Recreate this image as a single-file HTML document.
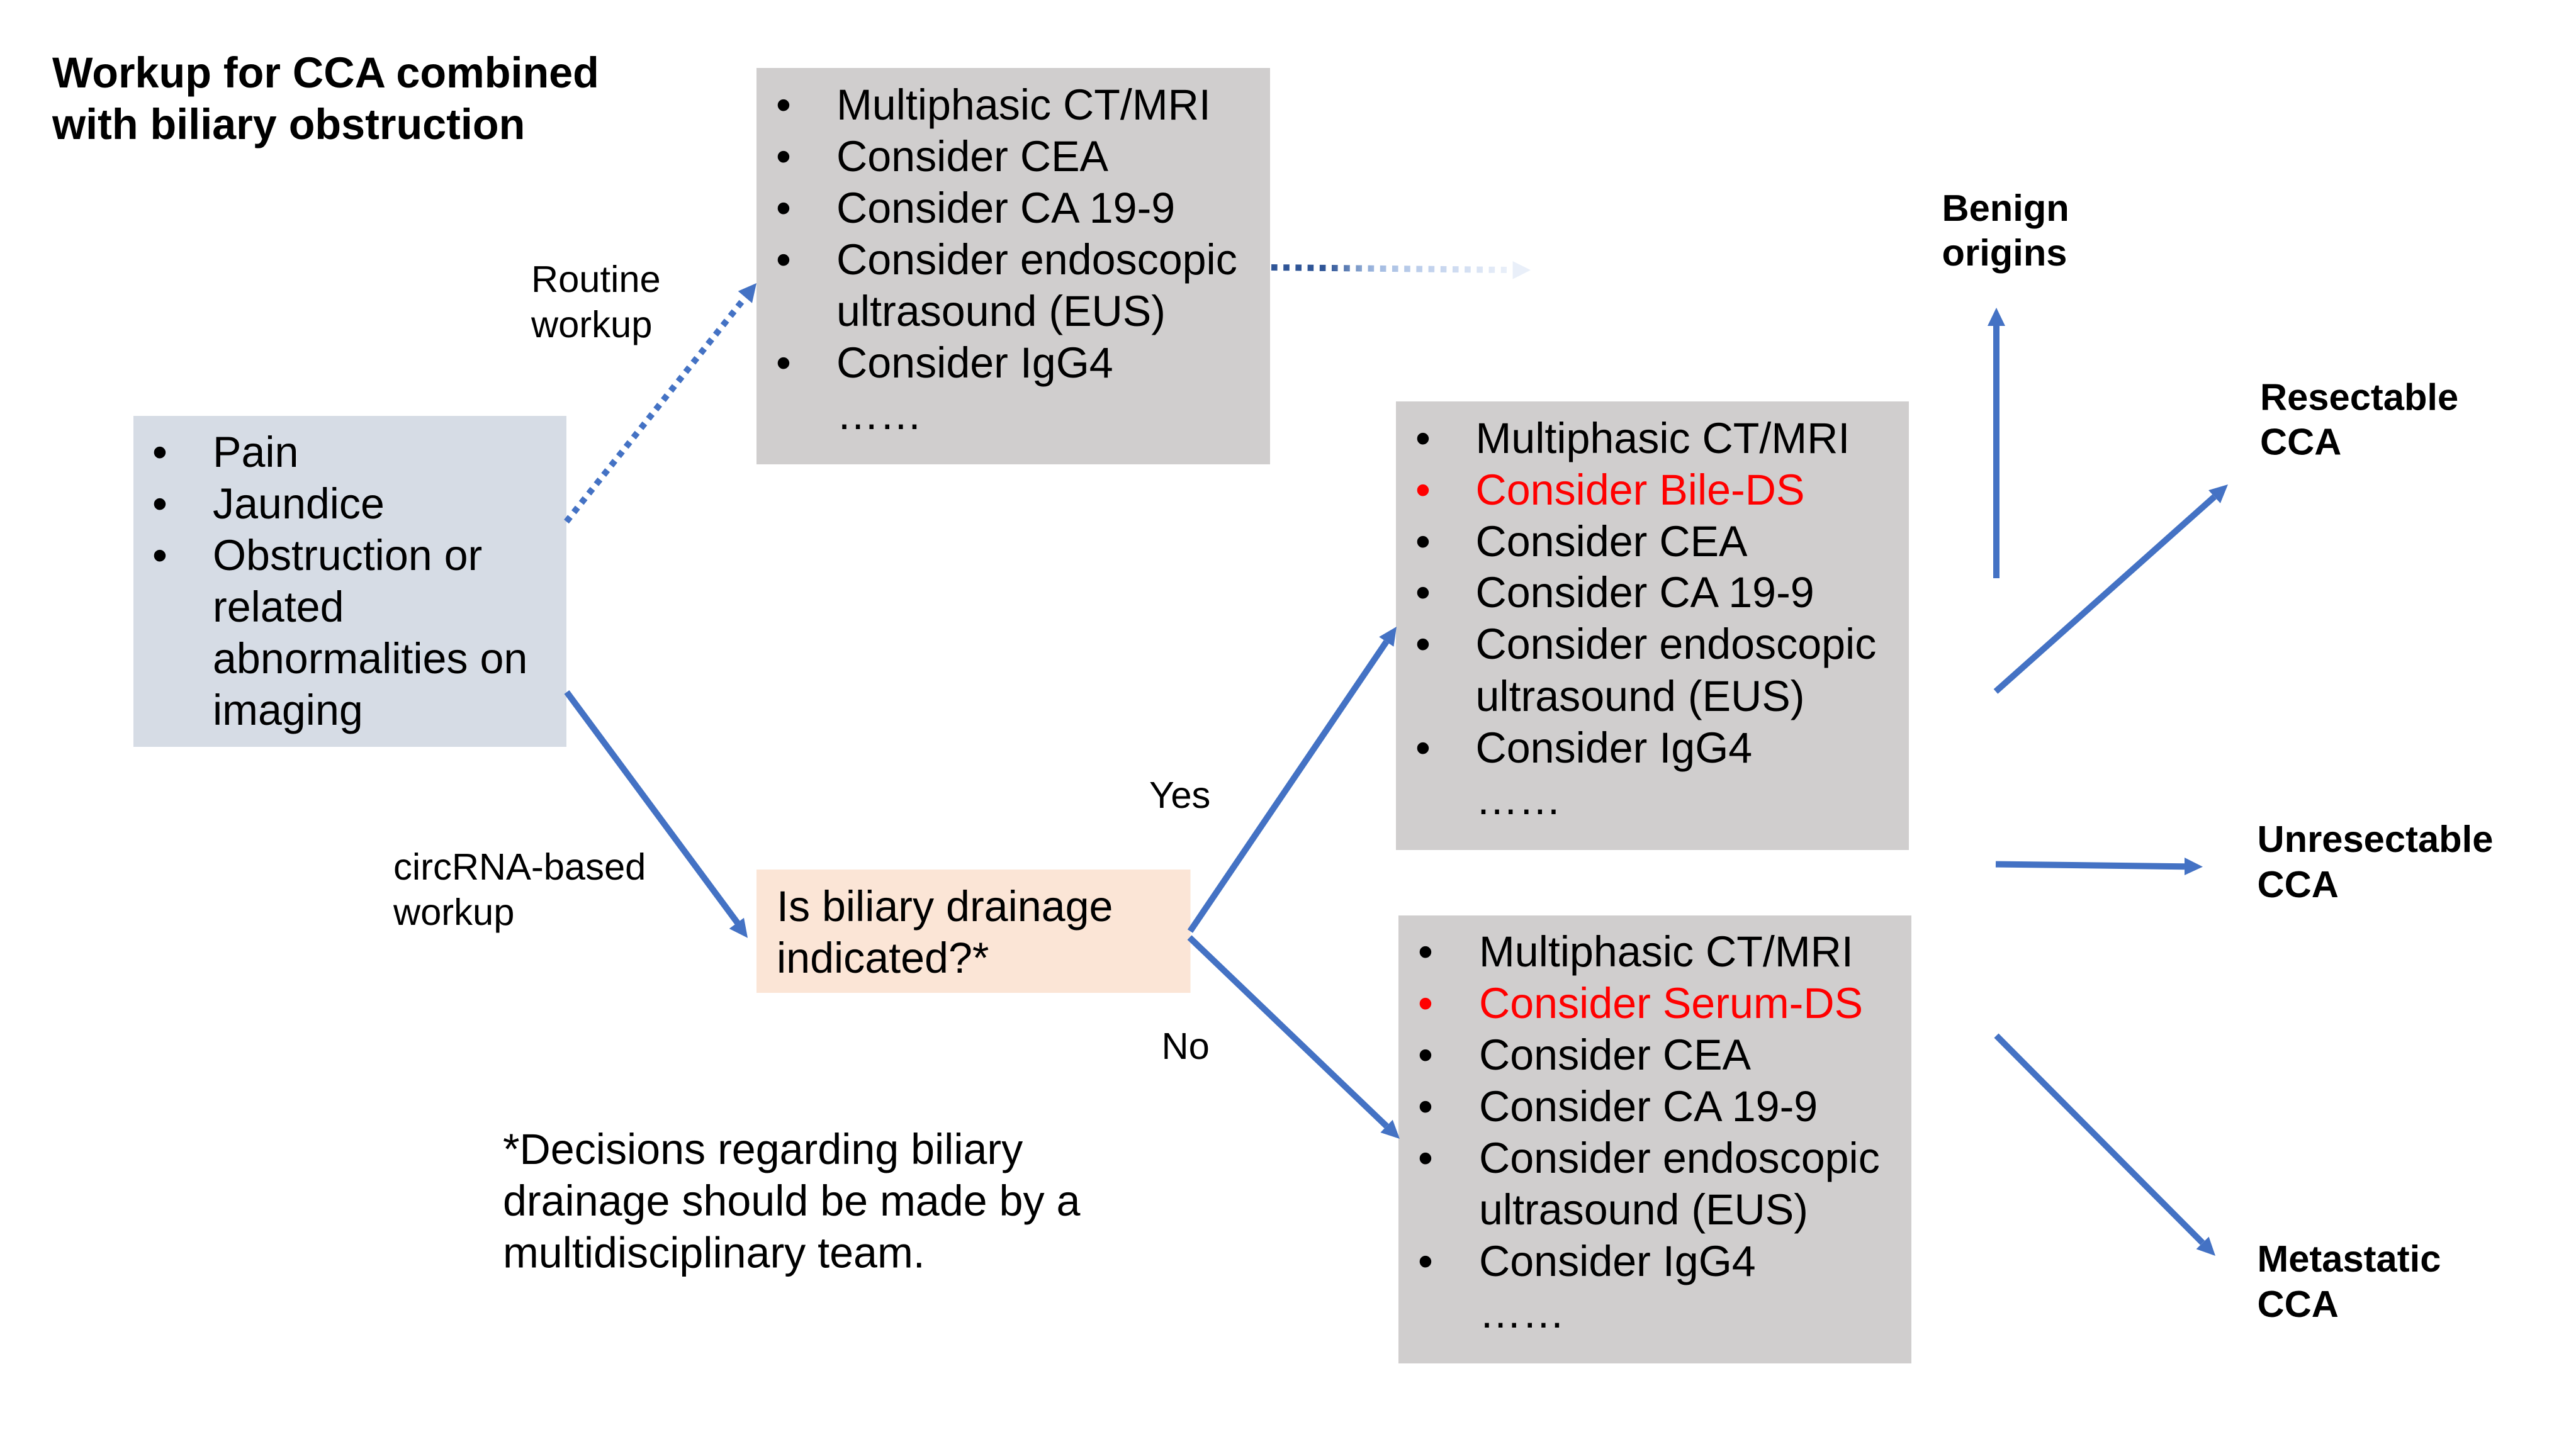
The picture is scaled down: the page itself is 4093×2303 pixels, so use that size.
<!DOCTYPE html>
<html>
<head>
<meta charset="utf-8">
<style>
html,body{margin:0;padding:0;background:#fff;width:4093px;height:2303px;overflow:hidden}
svg{display:block}
text{font-family:"Liberation Sans",Arial,sans-serif;fill:#000}
.m{font-size:68.2px}
.s{font-size:59.7px}
.b{font-size:59.7px;font-weight:bold}
.t{font-size:68.3px;font-weight:bold}
.r{fill:#f00}
.l{stroke:#4472C4;stroke-width:10;fill:none}
.h{fill:#4472C4}
</style>
</head>
<body>
<svg width="4093" height="2303" viewBox="0 0 4093 2303" xmlns="http://www.w3.org/2000/svg">
<defs>
<linearGradient id="g" gradientUnits="userSpaceOnUse" x1="2020" y1="0" x2="2394" y2="0">
<stop offset="0" stop-color="#2F5597"/>
<stop offset="0.22" stop-color="#2F5597"/>
<stop offset="0.30" stop-color="#4F71AB"/>
<stop offset="0.38" stop-color="#86A3CF"/>
<stop offset="0.44" stop-color="#9FB8E0"/>
<stop offset="0.50" stop-color="#ADC3E5"/>
<stop offset="0.65" stop-color="#BFD0EC"/>
<stop offset="1" stop-color="#E9EFF9"/>
</linearGradient>
</defs>
<rect width="4093" height="2303" fill="#fff"/>

<!-- boxes -->
<rect x="212" y="661" width="688" height="526" fill="#D6DCE5"/>
<rect x="1202" y="108" width="816" height="630" fill="#D0CECE"/>
<rect x="2218" y="638" width="815" height="713" fill="#D0CECE"/>
<rect x="2222" y="1455" width="815" height="712" fill="#D0CECE"/>
<rect x="1202" y="1382" width="689.5" height="196" fill="#FBE5D6"/>

<!-- title -->
<text class="t" x="83" y="139">Workup for CCA combined</text>
<text class="t" x="83" y="221">with biliary obstruction</text>

<!-- symptom box -->
<text class="m" x="242" y="742">•</text><text class="m" x="338" y="742">Pain</text>
<text class="m" x="242" y="824">•</text><text class="m" x="338" y="824">Jaundice</text>
<text class="m" x="242" y="906">•</text><text class="m" x="338" y="906">Obstruction or</text>
<text class="m" x="338" y="988">related</text>
<text class="m" x="338" y="1070">abnormalities on</text>
<text class="m" x="338" y="1152">imaging</text>

<!-- routine box -->
<text class="m" x="1233" y="190">•</text><text class="m" x="1329" y="190">Multiphasic CT/MRI</text>
<text class="m" x="1233" y="272">•</text><text class="m" x="1329" y="272">Consider CEA</text>
<text class="m" x="1233" y="354">•</text><text class="m" x="1329" y="354">Consider CA 19-9</text>
<text class="m" x="1233" y="436">•</text><text class="m" x="1329" y="436">Consider endoscopic</text>
<text class="m" x="1329" y="518">ultrasound (EUS)</text>
<text class="m" x="1233" y="600">•</text><text class="m" x="1329" y="600">Consider IgG4</text>
<text class="m" x="1329" y="682">……</text>

<!-- bile box -->
<text class="m" x="2249" y="720">•</text><text class="m" x="2344.5" y="720">Multiphasic CT/MRI</text>
<text class="m r" x="2249" y="802">•</text><text class="m r" x="2344.5" y="802">Consider Bile-DS</text>
<text class="m" x="2249" y="884">•</text><text class="m" x="2344.5" y="884">Consider CEA</text>
<text class="m" x="2249" y="965">•</text><text class="m" x="2344.5" y="965">Consider CA 19-9</text>
<text class="m" x="2249" y="1047">•</text><text class="m" x="2344.5" y="1047">Consider endoscopic</text>
<text class="m" x="2344.5" y="1130">ultrasound (EUS)</text>
<text class="m" x="2249" y="1212">•</text><text class="m" x="2344.5" y="1212">Consider IgG4</text>
<text class="m" x="2344.5" y="1294">……</text>

<!-- serum box -->
<text class="m" x="2253" y="1536">•</text><text class="m" x="2350" y="1536">Multiphasic CT/MRI</text>
<text class="m r" x="2253" y="1618">•</text><text class="m r" x="2350" y="1618">Consider Serum-DS</text>
<text class="m" x="2253" y="1700">•</text><text class="m" x="2350" y="1700">Consider CEA</text>
<text class="m" x="2253" y="1782">•</text><text class="m" x="2350" y="1782">Consider CA 19-9</text>
<text class="m" x="2253" y="1864">•</text><text class="m" x="2350" y="1864">Consider endoscopic</text>
<text class="m" x="2350" y="1946">ultrasound (EUS)</text>
<text class="m" x="2253" y="2028">•</text><text class="m" x="2350" y="2028">Consider IgG4</text>
<text class="m" x="2350" y="2110">……</text>

<!-- question -->
<text class="m" x="1234" y="1464">Is biliary drainage</text>
<text class="m" x="1234" y="1546">indicated?*</text>

<!-- footnote -->
<text class="m" x="799" y="1850">*Decisions regarding biliary</text>
<text class="m" x="799" y="1932">drainage should be made by a</text>
<text class="m" x="799" y="2014.5">multidisciplinary team.</text>

<!-- edge labels -->
<text class="s" x="844" y="464">Routine</text>
<text class="s" x="844" y="536">workup</text>
<text class="s" x="625" y="1398">circRNA-based</text>
<text class="s" x="625" y="1470">workup</text>
<text class="s" x="1826" y="1284">Yes</text>
<text class="s" x="1845.5" y="1683">No</text>

<!-- outcomes -->
<text class="b" x="3085.5" y="351">Benign</text>
<text class="b" x="3085.5" y="422">origins</text>
<text class="b" x="3591" y="651.5">Resectable</text>
<text class="b" x="3591" y="722.5">CCA</text>
<text class="b" x="3586.5" y="1354">Unresectable</text>
<text class="b" x="3586.5" y="1426">CCA</text>
<text class="b" x="3586.5" y="2021">Metastatic</text>
<text class="b" x="3586.5" y="2093">CCA</text>

<!-- routine dotted arrow -->
<line class="l" x1="900" y1="829" x2="1184" y2="472.7" stroke-dasharray="9.5 9.5"/>
<polygon class="h" points="1202,450 1195,481.7 1172.7,462.7"/>

<!-- gradient dotted arrow -->
<line x1="2020" y1="425" x2="2394" y2="429" stroke="url(#g)" stroke-width="10" stroke-dasharray="9.6 9.6" fill="none"/>
<polygon points="2432,429.3 2403.5,415 2403.5,443.6" fill="#E9EFF9"/>

<!-- circRNA arrow -->
<line class="l" x1="900.5" y1="1100" x2="1171.7" y2="1466.7"/>
<polygon class="h" points="1188,1490.7 1182,1458.7 1158.7,1476"/>

<!-- yes -->
<line class="l" x1="1891" y1="1480" x2="2202.8" y2="1020"/>
<polygon class="h" points="2219,996 2214.4,1027.8 2191.2,1012.2"/>

<!-- no -->
<line class="l" x1="1890" y1="1490" x2="2203.1" y2="1789.9"/>
<polygon class="h" points="2224,1810 2212.8,1779.8 2193.4,1800"/>

<!-- benign -->
<line class="l" x1="3172" y1="919" x2="3172" y2="518"/>
<polygon class="h" points="3172,489 3186,518 3158,518"/>

<!-- resectable -->
<line class="l" x1="3171" y1="1099" x2="3518.5" y2="789.5"/>
<polygon class="h" points="3540,770 3527.9,799.9 3509.1,779.1"/>

<!-- unresectable -->
<line class="l" x1="3171" y1="1373.6" x2="3471" y2="1377.2"/>
<polygon class="h" points="3500,1377.6 3471,1363 3471,1391"/>

<!-- metastatic -->
<line class="l" x1="3172" y1="1646" x2="3499.6" y2="1975.4"/>
<polygon class="h" points="3520,1996 3509.6,1965.6 3489.6,1985.2"/>
</svg>
</body>
</html>
